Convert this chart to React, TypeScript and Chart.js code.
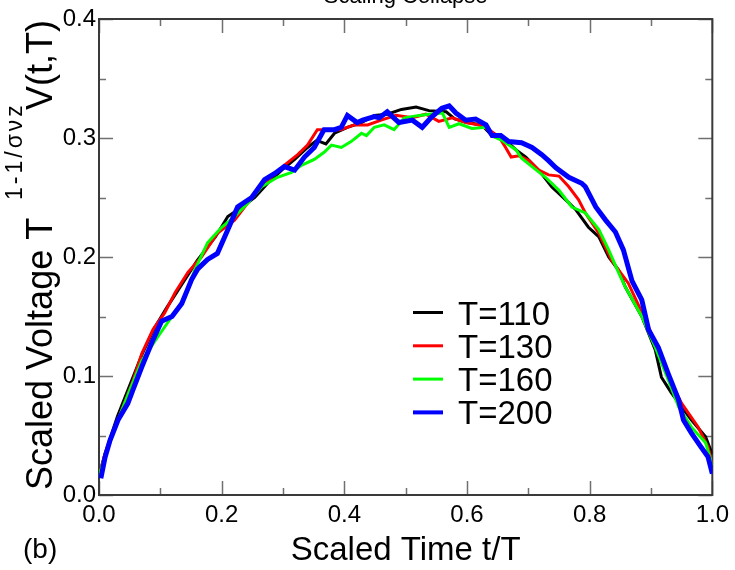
import React, { useEffect, useRef } from "react";
import { Chart, registerables } from "chart.js";

Chart.register(...registerables);

const seriesLabels = ["T=110", "T=130", "T=160", "T=200"];
const seriesColors = ["#000000", "#ff0000", "#00ff00", "#0000ff"];
const seriesWidths = [3, 3, 3, 5];
const legendWidths = [3, 3, 3, 4];

const t110 = [0, 0.01, 0.03, 0.05, 0.07, 0.09, 0.11, 0.13, 0.145, 0.16, 0.175, 0.19, 0.21, 0.233, 0.254, 0.275, 0.298, 0.319, 0.34, 0.355, 0.37, 0.384, 0.405, 0.428, 0.449, 0.47, 0.493, 0.517, 0.538, 0.566, 0.58, 0.6, 0.624, 0.641, 0.663, 0.68, 0.696, 0.717, 0.738, 0.761, 0.777, 0.798, 0.815, 0.831, 0.847, 0.858, 0.885, 0.907, 0.917, 0.933, 0.95, 0.966, 0.989, 1.0];
const v110 = [0.016, 0.035, 0.066, 0.092, 0.118, 0.14, 0.157, 0.173, 0.185, 0.197, 0.207, 0.217, 0.234, 0.242, 0.25, 0.262, 0.273, 0.282, 0.292, 0.298, 0.295, 0.304, 0.309, 0.313, 0.319, 0.32, 0.324, 0.326, 0.323, 0.322, 0.316, 0.313, 0.311, 0.302, 0.298, 0.29, 0.284, 0.273, 0.259, 0.248, 0.24, 0.225, 0.217, 0.2, 0.189, 0.175, 0.15, 0.122, 0.099, 0.086, 0.074, 0.063, 0.049, 0.034];

const t130 = [0, 0.01, 0.037, 0.054, 0.07, 0.088, 0.107, 0.124, 0.145, 0.167, 0.193, 0.221, 0.242, 0.259, 0.281, 0.302, 0.324, 0.34, 0.356, 0.372, 0.394, 0.416, 0.438, 0.46, 0.484, 0.511, 0.533, 0.554, 0.576, 0.598, 0.62, 0.636, 0.652, 0.663, 0.672, 0.685, 0.701, 0.717, 0.733, 0.75, 0.766, 0.782, 0.793, 0.815, 0.836, 0.863, 0.891, 0.912, 0.933, 0.95, 0.977, 0.993, 1.0];
const v130 = [0.016, 0.035, 0.071, 0.094, 0.119, 0.139, 0.153, 0.17, 0.187, 0.2, 0.22, 0.231, 0.245, 0.256, 0.267, 0.277, 0.286, 0.294, 0.307, 0.307, 0.307, 0.311, 0.311, 0.315, 0.319, 0.317, 0.32, 0.314, 0.317, 0.313, 0.311, 0.307, 0.301, 0.292, 0.284, 0.285, 0.281, 0.273, 0.269, 0.268, 0.259, 0.248, 0.237, 0.22, 0.197, 0.178, 0.147, 0.122, 0.094, 0.077, 0.057, 0.04, 0.027];

const t160 = [0, 0.01, 0.03, 0.05, 0.07, 0.096, 0.119, 0.14, 0.156, 0.177, 0.2, 0.221, 0.242, 0.265, 0.291, 0.314, 0.33, 0.351, 0.367, 0.379, 0.395, 0.411, 0.428, 0.436, 0.449, 0.465, 0.481, 0.498, 0.522, 0.538, 0.56, 0.571, 0.587, 0.608, 0.631, 0.644, 0.657, 0.68, 0.689, 0.706, 0.728, 0.75, 0.771, 0.793, 0.815, 0.831, 0.847, 0.858, 0.885, 0.907, 0.928, 0.945, 0.966, 0.989, 1.0];
const v160 = [0.016, 0.033, 0.062, 0.088, 0.113, 0.133, 0.15, 0.166, 0.189, 0.212, 0.225, 0.234, 0.245, 0.259, 0.267, 0.271, 0.277, 0.282, 0.288, 0.294, 0.292, 0.297, 0.304, 0.302, 0.309, 0.311, 0.307, 0.317, 0.319, 0.32, 0.321, 0.309, 0.312, 0.308, 0.309, 0.301, 0.298, 0.29, 0.283, 0.276, 0.267, 0.256, 0.242, 0.237, 0.223, 0.206, 0.187, 0.175, 0.15, 0.124, 0.097, 0.074, 0.057, 0.044, 0.025];

const t200 = [0.003, 0.01, 0.018, 0.031, 0.047, 0.055, 0.07, 0.086, 0.102, 0.119, 0.135, 0.151, 0.161, 0.177, 0.193, 0.21, 0.226, 0.249, 0.27, 0.286, 0.302, 0.319, 0.335, 0.351, 0.367, 0.384, 0.395, 0.405, 0.421, 0.43, 0.449, 0.457, 0.47, 0.489, 0.511, 0.527, 0.543, 0.559, 0.571, 0.582, 0.598, 0.614, 0.631, 0.641, 0.655, 0.668, 0.689, 0.706, 0.722, 0.733, 0.745, 0.766, 0.787, 0.793, 0.81, 0.826, 0.842, 0.855, 0.869, 0.885, 0.896, 0.912, 0.928, 0.945, 0.953, 0.966, 0.982, 0.993, 1.0];
const v200 = [0.014, 0.032, 0.046, 0.063, 0.077, 0.088, 0.108, 0.128, 0.146, 0.15, 0.161, 0.181, 0.19, 0.198, 0.203, 0.223, 0.242, 0.25, 0.265, 0.27, 0.276, 0.273, 0.284, 0.292, 0.307, 0.307, 0.309, 0.319, 0.313, 0.315, 0.318, 0.317, 0.322, 0.313, 0.315, 0.309, 0.318, 0.325, 0.327, 0.321, 0.315, 0.316, 0.311, 0.302, 0.302, 0.297, 0.296, 0.292, 0.286, 0.281, 0.275, 0.267, 0.262, 0.259, 0.242, 0.231, 0.221, 0.206, 0.18, 0.164, 0.139, 0.124, 0.102, 0.08, 0.063, 0.052, 0.04, 0.032, 0.018];

const seriesT = [t110, t130, t160, t200];
const seriesV = [v110, v130, v160, v200];

const xMajorTicks = [0, 0.2, 0.4, 0.6, 0.8, 1.0];
const xMinorTicks = [0.1, 0.3, 0.5, 0.7, 0.9];
const yMajorTicks = [0, 0.1, 0.2, 0.3, 0.4];
const yMinorTicks = [0.05, 0.15, 0.25, 0.35];

const titleText = "Scaling Collapse";
const xTitleText = "Scaled Time t/T";
const yTitleMain = "Scaled Voltage T";
const yTitleSup = "1-1/\u03c3\u03bdz";
const yTitleTail = "V(t,T)";
const panelTag = "(b)";

const FONT = '"Liberation Sans", Arial, Helvetica, sans-serif';

const decorPlugin = {
  id: "decor",
  beforeDatasetsDraw(chart: any) {
    const ctx = chart.ctx;
    const { left, right, top, bottom } = chart.chartArea;
    const xs = chart.scales.x;
    const ys = chart.scales.y;
    ctx.save();
    ctx.strokeStyle = "#707070";
    ctx.lineWidth = 1.5;
    const drawX = (vals: number[], len: number) => {
      vals.forEach((v) => {
        const px = Math.round(xs.getPixelForValue(v)) + 0.5;
        ctx.beginPath();
        ctx.moveTo(px, bottom);
        ctx.lineTo(px, bottom - len);
        ctx.moveTo(px, top);
        ctx.lineTo(px, top + len);
        ctx.stroke();
      });
    };
    const drawY = (vals: number[], len: number) => {
      vals.forEach((v) => {
        const py = Math.round(ys.getPixelForValue(v)) + 0.5;
        ctx.beginPath();
        ctx.moveTo(left, py);
        ctx.lineTo(left + len, py);
        ctx.moveTo(right, py);
        ctx.lineTo(right - len, py);
        ctx.stroke();
      });
    };
    drawX(xMajorTicks, 14);
    drawX(xMinorTicks, 7);
    drawY(yMajorTicks, 14);
    drawY(yMinorTicks, 7);
    ctx.strokeStyle = "#3a3a3a";
    ctx.lineWidth = 2;
    ctx.strokeRect(left, top, right - left, bottom - top);
    ctx.restore();
  },
  afterDraw(chart: any) {
    const ctx = chart.ctx;
    const { left, right } = chart.chartArea;
    const cx = (left + right) / 2;
    ctx.save();
    ctx.fillStyle = "#000";
    ctx.textBaseline = "alphabetic";
    ctx.textAlign = "center";
    ctx.font = `22px ${FONT}`;
    ctx.fillText(titleText, cx, 3);
    ctx.font = `33px ${FONT}`;
    ctx.fillText(xTitleText, cx, 560);
    ctx.textAlign = "left";
    ctx.font = `28px ${FONT}`;
    ctx.fillText(panelTag, 23, 558);
    ctx.save();
    ctx.translate(52, 490);
    ctx.rotate(-Math.PI / 2);
    ctx.textAlign = "left";
    ctx.font = `36px ${FONT}`;
    ctx.fillText(yTitleMain, 0, 0);
    ctx.font = `23px ${FONT}`;
    (ctx as any).letterSpacing = "3px";
    ctx.fillText(yTitleSup, 290, -30);
    (ctx as any).letterSpacing = "0px";
    ctx.font = `36px ${FONT}`;
    ctx.fillText(yTitleTail, 380, 0);
    ctx.restore();
    const sets = chart.data.datasets;
    ctx.font = `33px ${FONT}`;
    ctx.textAlign = "left";
    sets.forEach((ds: any, i: number) => {
      const ry = 312.5 + i * 33.3;
      ctx.strokeStyle = ds.borderColor;
      ctx.lineWidth = legendWidths[i];
      ctx.beginPath();
      ctx.moveTo(413, ry);
      ctx.lineTo(443, ry);
      ctx.stroke();
      ctx.fillStyle = "#000";
      ctx.fillText(ds.label, 458, ry + 12);
    });
    ctx.restore();
  },
};

export default function App() {
  const canvasRef = useRef<HTMLCanvasElement | null>(null);

  useEffect(() => {
    if (!canvasRef.current) return;
    const datasets = seriesLabels.map((label, i) => ({
      label,
      data: seriesT[i].map((t, j) => ({ x: t, y: seriesV[i][j] })),
      borderColor: seriesColors[i],
      backgroundColor: seriesColors[i],
      borderWidth: seriesWidths[i],
      pointRadius: 0,
      tension: 0,
      fill: false,
      order: seriesLabels.length - i,
      borderJoinStyle: "miter" as const,
    }));
    const chart = new Chart(canvasRef.current, {
      type: "line",
      data: { datasets },
      options: {
        responsive: false,
        animation: false,
        devicePixelRatio: 1,
        layout: { padding: { left: 0, top: 19, right: 21, bottom: 0 } },
        plugins: {
          legend: { display: false },
          title: { display: false },
          tooltip: { enabled: false },
        },
        events: [],
        scales: {
          x: {
            type: "linear",
            min: 0,
            max: 1,
            afterFit: (scale: any) => {
              scale.height = 75;
            },
            grid: { display: false, drawTicks: false },
            border: { display: false },
            ticks: {
              stepSize: 0.2,
              padding: 6,
              color: "#000",
              font: { size: 24, family: FONT },
              maxRotation: 0,
              callback: (v: any) => Number(v).toFixed(1),
            },
          },
          y: {
            type: "linear",
            min: 0,
            max: 0.4,
            afterFit: (scale: any) => {
              scale.width = 99;
            },
            grid: { display: false, drawTicks: false },
            border: { display: false },
            ticks: {
              stepSize: 0.1,
              padding: 3,
              color: "#000",
              font: { size: 24, family: FONT },
              callback: (v: any) => Number(v).toFixed(1),
            },
          },
        },
      },
      plugins: [decorPlugin],
    });
    return () => chart.destroy();
  }, []);

  return (
    <div style={{ position: "absolute", left: 0, top: 0, width: 735, height: 570, background: "#fff" }}>
      <canvas ref={canvasRef} width={735} height={570} style={{ width: 735, height: 570, display: "block" }} />
    </div>
  );
}
